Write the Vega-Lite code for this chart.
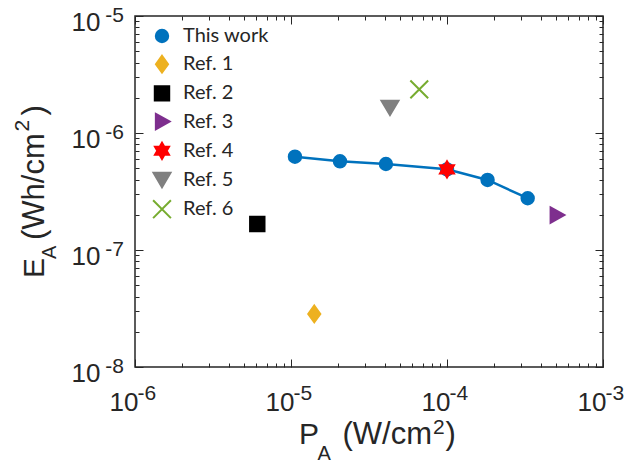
{
  "$schema": "https://vega.github.io/schema/vega-lite/v6.json",
  "width": 468,
  "height": 351,
  "autosize": {"type": "none"},
  "padding": {"left": 135, "top": 16, "right": 28, "bottom": 101},
  "background": "white",
  "config": {
    "view": {"stroke": "#262626", "strokeWidth": 1.5},
    "axis": {
      "grid": false,
      "domain": false,
      "tickColor": "#262626",
      "tickWidth": 1,
      "labelFont": "Liberation Sans",
      "labelColor": "#262626",
      "titleFont": "Liberation Sans",
      "titleFontWeight": "normal",
      "titleColor": "#262626",
      "titleBaseline": "alphabetic",
      "titleAlign": "left",
      "labelOverlap": false,
      "labelBound": false,
      "labelFlush": false
    }
  },
  "data": {
    "values": [
      {"series": "This work", "P": 1.06e-5, "E": 6.27e-7},
      {"series": "This work", "P": 2.06e-5, "E": 5.73e-7},
      {"series": "This work", "P": 4.06e-5, "E": 5.43e-7},
      {"series": "This work", "P": 1.0e-4, "E": 4.89e-7},
      {"series": "This work", "P": 1.82e-4, "E": 3.97e-7},
      {"series": "This work", "P": 3.29e-4, "E": 2.77e-7},
      {"series": "Ref. 1", "P": 1.41e-5, "E": 2.84e-8},
      {"series": "Ref. 2", "P": 6.08e-6, "E": 1.67e-7},
      {"series": "Ref. 3", "P": 5.05e-4, "E": 1.99e-7},
      {"series": "Ref. 4", "P": 1.0e-4, "E": 4.89e-7},
      {"series": "Ref. 5", "P": 4.31e-5, "E": 1.64e-6},
      {"series": "Ref. 6", "P": 6.64e-5, "E": 2.36e-6}
    ]
  },
  "layer": [
    {
      "transform": [{"filter": "datum.series == 'This work'"}],
      "mark": {"type": "line", "color": "#0072BD", "strokeWidth": 2.5},
      "encoding": {
        "x": {
          "field": "P", "type": "quantitative",
          "scale": {"type": "log", "domain": [1e-6, 1e-3], "nice": false},
          "axis": {
            "orient": "bottom", "values": [1e-6, 1e-5, 1e-4, 1e-3],
            "ticks": false, "tickSize": 0,
            "labelExpr": "'10'", "labelFontSize": 26, "labelAlign": "right", "labelBaseline": "alphabetic",
            "labelOffset": 3, "labelPadding": 43,
            "title": "(W/cm", "titleFontSize": 31, "titleX": 207, "titleY": 76
          }
        },
        "y": {
          "field": "E", "type": "quantitative",
          "scale": {"type": "log", "domain": [1e-8, 1e-5], "nice": false},
          "axis": {
            "orient": "left", "values": [1e-8, 1e-7, 1e-6, 1e-5],
            "ticks": false, "tickSize": 0,
            "labelExpr": "'10'", "labelFontSize": 26, "labelAlign": "right", "labelBaseline": "alphabetic",
            "labelOffset": 14, "labelPadding": 35,
            "title": "(Wh/cm", "titleFontSize": 31, "titleAngle": 270, "titleX": -91.7, "titleY": 223.5
          }
        }
      }
    },
    {
      "mark": {"type": "point", "filled": true, "opacity": 1},
      "encoding": {
        "x": {"field": "P", "type": "quantitative", "axis": null},
        "y": {"field": "E", "type": "quantitative", "axis": null},
        "color": {
          "field": "series", "type": "nominal",
          "scale": {
            "domain": ["This work", "Ref. 1", "Ref. 2", "Ref. 3", "Ref. 4", "Ref. 5", "Ref. 6"],
            "range": ["#0072BD", "#EDB120", "#000000", "#7E2F8E", "#FF0000", "#808080", "#77AC30"]
          },
          "legend": {
            "title": null,
            "orient": "none",
            "legendX": 17,
            "legendY": 10,
            "padding": 0,
            "labelFont": "Lato",
            "labelFontSize": 20,
            "labelColor": "#262626",
            "symbolSize": 140,
            "labelOffset": 11,
            "rowPadding": 4.2,
            "symbolStrokeWidth": 2,
            "symbolOpacity": 1,
            "encode": {
              "symbols": {"update": {"stroke": {"scale": "color", "field": "value"}, "strokeWidth": {"value": 2}}}
            }
          }
        },
        "shape": {
          "field": "series", "type": "nominal",
          "scale": {
            "domain": ["This work", "Ref. 1", "Ref. 2", "Ref. 3", "Ref. 4", "Ref. 5", "Ref. 6"],
            "range": [
              "circle",
              "M0,-1.25L0.9,0L0,1.25L-0.9,0Z",
              "square",
              "M-0.8,-1L1,0L-0.8,1Z",
              "M0,-1L0.866,0.5L-0.866,0.5Z M0,1L-0.866,-0.5L0.866,-0.5Z",
              "M-1,-0.85L1,-0.85L0,0.85Z",
              "M-1,-1L1,1M-1,1L1,-1"
            ]
          }
        },
        "stroke": {
          "field": "series", "type": "nominal",
          "scale": {
            "domain": ["This work", "Ref. 1", "Ref. 2", "Ref. 3", "Ref. 4", "Ref. 5", "Ref. 6"],
            "range": ["#0072BD", "#EDB120", "#000000", "#7E2F8E", "#FF0000", "#808080", "#77AC30"]
          },
          "legend": null
        },
        "strokeWidth": {
          "field": "series", "type": "nominal",
          "scale": {
            "domain": ["This work", "Ref. 1", "Ref. 2", "Ref. 3", "Ref. 4", "Ref. 5", "Ref. 6"],
            "range": [2, 2, 2, 2, 2, 2, 3]
          },
          "legend": null
        },
        "size": {
          "field": "series", "type": "nominal",
          "scale": {
            "domain": ["This work", "Ref. 1", "Ref. 2", "Ref. 3", "Ref. 4", "Ref. 5", "Ref. 6"],
            "range": [154, 317, 121, 324, 441, 324, 169]
          },
          "legend": null
        }
      }
    },
    {
      "mark": {"type": "point", "opacity": 0},
      "encoding": {
        "x": {
          "field": "P", "type": "quantitative",
          "axis": {
            "orient": "bottom", "values": [1e-6, 1e-5, 1e-4, 1e-3],
            "ticks": false, "tickSize": 0,
            "labelExpr": "'-' + (-round(log(datum.value)/LN10))", "labelFontSize": 21, "labelAlign": "left", "labelBaseline": "alphabetic",
            "labelOffset": 2, "labelPadding": 32,
            "title": "A", "titleFontSize": 20, "titleX": 182, "titleY": 92
          }
        },
        "y": {
          "field": "E", "type": "quantitative",
          "axis": {
            "orient": "left", "values": [1e-8, 1e-7, 1e-6, 1e-5],
            "ticks": false, "tickSize": 0,
            "labelExpr": "'-' + (-round(log(datum.value)/LN10))", "labelFontSize": 21, "labelAlign": "right", "labelBaseline": "alphabetic",
            "labelOffset": 5, "labelPadding": 11.5,
            "title": "A", "titleFontSize": 20, "titleAngle": 270, "titleX": -80, "titleY": 242.5
          }
        }
      }
    },
    {
      "mark": {"type": "point", "opacity": 0},
      "encoding": {
        "x": {
          "field": "P", "type": "quantitative",
          "axis": {
            "orient": "bottom", "values": [1e-6, 1e-5, 1e-4, 1e-3],
            "offset": -8, "tickSize": 8, "labels": false,
            "title": "P", "titleFontSize": 30, "titleX": 163.4, "titleY": 84
          }
        },
        "y": {
          "field": "E", "type": "quantitative",
          "axis": {
            "orient": "left", "values": [1e-8, 1e-7, 1e-6, 1e-5],
            "offset": -8, "tickSize": 8, "labels": false,
            "title": "E", "titleFontSize": 30, "titleAngle": 270, "titleX": -99.7, "titleY": 261.4
          }
        }
      }
    },
    {
      "mark": {"type": "point", "opacity": 0},
      "encoding": {
        "x": {
          "field": "P", "type": "quantitative",
          "axis": {
            "orient": "bottom",
            "values": [2e-6,3e-6,4e-6,5e-6,6e-6,7e-6,8e-6,9e-6,2e-5,3e-5,4e-5,5e-5,6e-5,7e-5,8e-5,9e-5,2e-4,3e-4,4e-4,5e-4,6e-4,7e-4,8e-4,9e-4],
            "offset": -4, "tickSize": 4, "labels": false,
            "title": "2", "titleFontSize": 21, "titleX": 297.5, "titleY": 70
          }
        },
        "y": {
          "field": "E", "type": "quantitative",
          "axis": {
            "orient": "left",
            "values": [2e-8,3e-8,4e-8,5e-8,6e-8,7e-8,8e-8,9e-8,2e-7,3e-7,4e-7,5e-7,6e-7,7e-7,8e-7,9e-7,2e-6,3e-6,4e-6,5e-6,6e-6,7e-6,8e-6,9e-6],
            "offset": -4, "tickSize": 4, "labels": false,
            "title": "2", "titleFontSize": 21, "titleAngle": 270, "titleX": -110.7, "titleY": 115
          }
        }
      }
    },
    {
      "mark": {"type": "point", "opacity": 0},
      "encoding": {
        "x": {
          "field": "P", "type": "quantitative",
          "axis": {
            "orient": "top", "values": [1e-6, 1e-5, 1e-4, 1e-3],
            "offset": -8, "tickSize": 8, "labels": false,
            "title": ")", "titleFontSize": 31, "titleX": 310, "titleY": 419
          }
        },
        "y": {
          "field": "E", "type": "quantitative",
          "axis": {
            "orient": "right", "values": [1e-8, 1e-7, 1e-6, 1e-5],
            "offset": -8, "tickSize": 8, "labels": false,
            "title": ")", "titleFontSize": 31, "titleAngle": 270, "titleX": -551.7, "titleY": 99
          }
        }
      }
    },
    {
      "mark": {"type": "point", "opacity": 0},
      "encoding": {
        "x": {
          "field": "P", "type": "quantitative",
          "axis": {
            "orient": "top",
            "values": [2e-6,3e-6,4e-6,5e-6,6e-6,7e-6,8e-6,9e-6,2e-5,3e-5,4e-5,5e-5,6e-5,7e-5,8e-5,9e-5,2e-4,3e-4,4e-4,5e-4,6e-4,7e-4,8e-4,9e-4],
            "offset": -4, "tickSize": 4, "labels": false, "title": null
          }
        },
        "y": {
          "field": "E", "type": "quantitative",
          "axis": {
            "orient": "right",
            "values": [2e-8,3e-8,4e-8,5e-8,6e-8,7e-8,8e-8,9e-8,2e-7,3e-7,4e-7,5e-7,6e-7,7e-7,8e-7,9e-7,2e-6,3e-6,4e-6,5e-6,6e-6,7e-6,8e-6,9e-6],
            "offset": -4, "tickSize": 4, "labels": false, "title": null
          }
        }
      }
    }
  ],
  "resolve": {"axis": {"x": "independent", "y": "independent"}}
}
